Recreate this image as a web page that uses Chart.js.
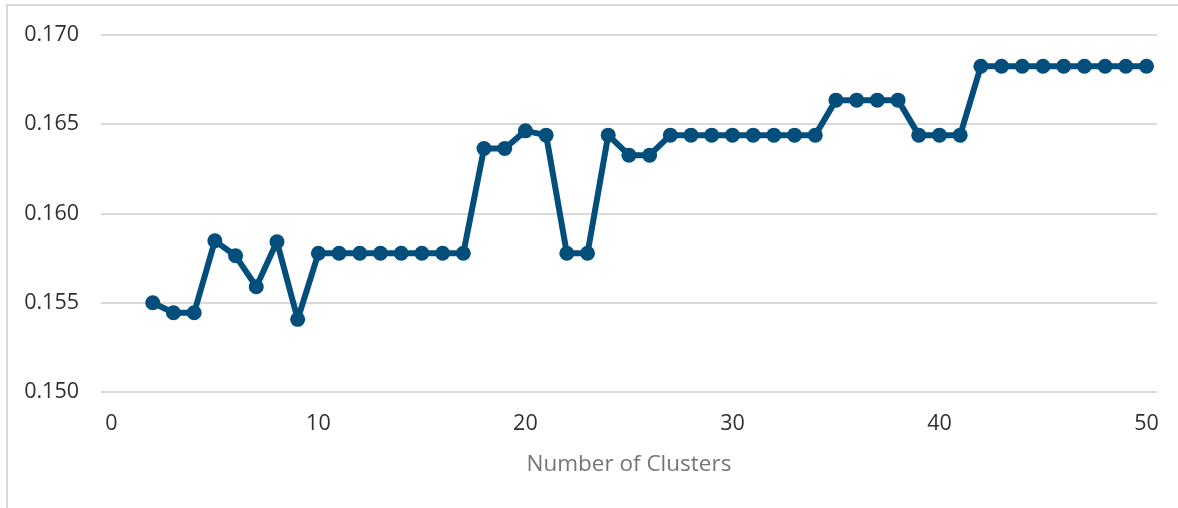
<!DOCTYPE html>
<html>
<head>
<meta charset="utf-8">
<script src="https://cdn.jsdelivr.net/npm/chart.js@4.4.0/dist/chart.umd.min.js"></script>
<style>
  html, body { margin: 0; padding: 0; background: #fff; overflow: hidden; }
  #wrap { position: relative; width: 1178px; height: 508px; overflow: hidden; }
  #frame { position: absolute; left: 6px; top: 4px; width: 1300px; height: 600px;
           border: 2px solid #d9d9d9; box-sizing: border-box; }
  #myChart { position: absolute; left: 0; top: 0; }
</style>
</head>
<body>
<div id="wrap">
  <div id="frame"></div>
  <canvas id="myChart" width="1178" height="508"></canvas>
</div>
<script>
const clusters = [];
for (let k = 2; k <= 50; k++) clusters.push(k);

const scores = [
    0.15500, 0.15444, 0.15444, 0.15847, 0.15763, 0.15590, 0.15842, 0.15407, // 2-9
    0.15777, 0.15777, 0.15777, 0.15777, 0.15777, 0.15777, 0.15777, 0.15777, // 10-17
    0.16364, 0.16364, 0.16463, 0.16439, 0.15777, 0.15777, 0.16439, 0.16327, // 18-25
    0.16327, 0.16439, 0.16439, 0.16439, 0.16439, 0.16439, 0.16439, 0.16439, // 26-33
    0.16439, 0.16635, 0.16635, 0.16635, 0.16635, 0.16439, 0.16439, 0.16439, // 34-41
    0.16825, 0.16825, 0.16825, 0.16825, 0.16825, 0.16825, 0.16825, 0.16825, // 42-49
    0.16825                                                                  // 50
];

const xTicks = [0, 10, 20, 30, 40, 50];
const yTicks = [0.150, 0.155, 0.160, 0.165, 0.170];

const lineColor = '#034e7b';

const ctx = document.getElementById('myChart').getContext('2d');
const myChart = new Chart(ctx, {
    type: 'line',
    data: {
        datasets: [{
            label: 'Score',
            data: clusters.map((k, i) => ({ x: k, y: scores[i] })),
            borderColor: lineColor,
            backgroundColor: lineColor,
            borderWidth: 6,
            borderJoinStyle: 'round',
            pointRadius: 7.5,
            pointHoverRadius: 7.5,
            pointBackgroundColor: lineColor,
            pointBorderWidth: 0,
            tension: 0
        }]
    },
    options: {
        responsive: false,
        animation: false,
        layout: { padding: { top: 35, right: 21, left: 0, bottom: 30 } },
        plugins: {
            legend: { display: false },
            tooltip: { enabled: false }
        },
        scales: {
            x: {
                type: 'linear',
                min: -0.5,
                max: 50.5,
                afterBuildTicks: scale => { scale.ticks = xTicks.map(v => ({ value: v })); },
                afterFit: scale => { scale.height = 86; },
                grid: { display: false, drawTicks: false },
                border: { display: false },
                ticks: {
                    color: '#303030',
                    font: { family: 'Open Sans', size: 21.5 },
                    padding: 19,
                    maxRotation: 0
                },
                title: {
                    display: true,
                    text: 'Number of Clusters',
                    color: '#767676',
                    font: { family: 'Open Sans', size: 22.5 },
                    padding: { top: 8, bottom: 0 }
                }
            },
            y: {
                min: 0.150,
                max: 0.170,
                afterBuildTicks: scale => { scale.ticks = yTicks.map(v => ({ value: v })); },
                afterFit: scale => { scale.width = 101; },
                grid: { color: '#d9d9d9', lineWidth: 2, drawTicks: false },
                border: { display: false },
                ticks: {
                    color: '#303030',
                    font: { family: 'Open Sans', size: 21.5 },
                    padding: 22,
                    callback: v => v.toFixed(3)
                }
            }
        }
    }
});
</script>
</body>
</html>
